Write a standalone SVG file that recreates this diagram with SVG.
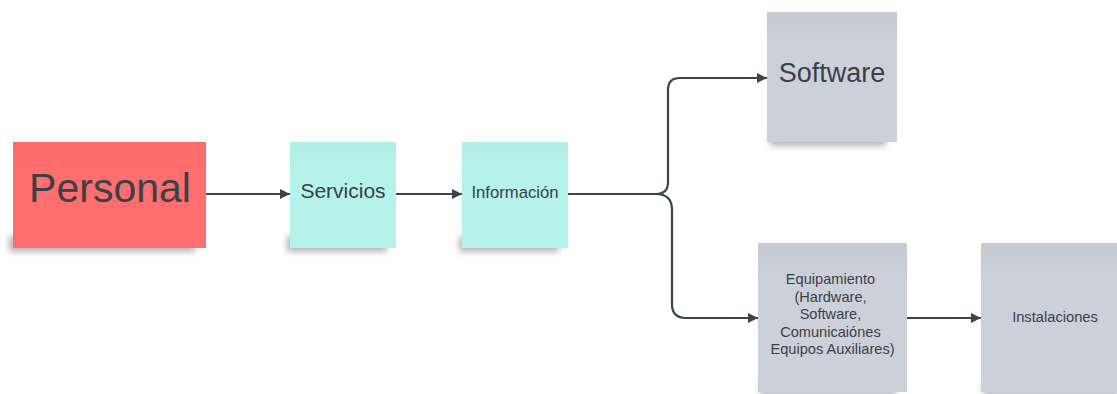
<svg xmlns="http://www.w3.org/2000/svg" width="1117" height="394" viewBox="0 0 1117 394">
  <style>
    .lbl { font-family: "Liberation Sans", Arial, sans-serif; fill: #3b3f46; text-anchor: middle; }
    .wire { fill: none; stroke: #3d434c; stroke-width: 2.2; }
    .shadow { fill: #000; opacity: 0.28; filter: url(#soft); }
  </style>
  <defs>
    <filter id="soft" x="-20%" y="-20%" width="140%" height="160%">
      <feGaussianBlur stdDeviation="3"/>
    </filter>
    <linearGradient id="grayFill" x1="0" y1="0" x2="0" y2="1">
      <stop offset="0" stop-color="#c6cbd3"/>
      <stop offset="0.25" stop-color="#ccd1d9"/>
      <stop offset="1" stop-color="#ccd1d9"/>
    </linearGradient>
    <linearGradient id="tealFill" x1="0" y1="0" x2="0" y2="1">
      <stop offset="0" stop-color="#b0eee6"/>
      <stop offset="0.25" stop-color="#b4f2ea"/>
      <stop offset="1" stop-color="#b4f2ea"/>
    </linearGradient>
    <linearGradient id="redFill" x1="0" y1="0" x2="0" y2="1">
      <stop offset="0" stop-color="#fb6b6b"/>
      <stop offset="0.25" stop-color="#fe6e6e"/>
      <stop offset="1" stop-color="#fe6e6e"/>
    </linearGradient>
    <marker id="arrow" viewBox="0 0 10 10" refX="10" refY="5" markerWidth="10" markerHeight="10" markerUnits="userSpaceOnUse" orient="auto">
      <path d="M0,0 L10,5 L0,10 Z" fill="#3d434c"/>
    </marker>
  </defs>

  <g id="connectors">
    <path class="wire" d="M206,194 H290" marker-end="url(#arrow)"/>
    <path class="wire" d="M396,194 H462" marker-end="url(#arrow)"/>
    <path class="wire" d="M567,194 H656 Q668,194 668,182 V90 Q668,78 680,78 H767" marker-end="url(#arrow)"/>
    <path class="wire" d="M656,194 Q672,194 672,210 V304 Q672,318 686,318 H758" marker-end="url(#arrow)"/>
    <path class="wire" d="M907,318 H981" marker-end="url(#arrow)"/>
  </g>

  <g id="personal">
    <rect class="shadow" x="9" y="236" width="186" height="16"/>
    <rect x="13" y="142" width="193" height="106" fill="url(#redFill)"/>
    <text class="lbl" x="110" y="202" font-size="41">Personal</text>
  </g>

  <g id="servicios">
    <rect class="shadow" x="287" y="236" width="100" height="16"/>
    <rect x="290" y="142" width="106" height="106" fill="url(#tealFill)"/>
    <text class="lbl" x="343" y="198" font-size="21">Servicios</text>
  </g>

  <g id="informacion">
    <rect class="shadow" x="459" y="236" width="100" height="16"/>
    <rect x="462" y="142" width="106" height="106" fill="url(#tealFill)"/>
    <text class="lbl" x="515" y="198" font-size="16.7">Información</text>
  </g>

  <g id="software">
    <rect class="shadow" x="770" y="130" width="116" height="16"/>
    <rect x="767" y="12" width="130" height="130" fill="url(#grayFill)"/>
    <text class="lbl" x="832" y="82" font-size="27">Software</text>
  </g>

  <g id="equipamiento">
    <rect class="shadow" x="760" y="381" width="136" height="14"/>
    <rect x="758" y="243" width="149" height="149" fill="url(#grayFill)"/>
    <text class="lbl" font-size="14.6">
      <tspan x="832.5" y="284">Equipamiento</tspan>
      <tspan x="832.5" y="301.6">(Hardware,</tspan>
      <tspan x="832.5" y="319.2">Software,</tspan>
      <tspan x="832.5" y="336.8">Comunicaiónes</tspan>
      <tspan x="832.5" y="354.4">Equipos Auxiliares)</tspan>
    </text>
  </g>

  <g id="instalaciones">
    <rect class="shadow" x="983" y="381" width="136" height="14"/>
    <rect x="981" y="243" width="149" height="149" fill="url(#grayFill)"/>
    <text class="lbl" x="1055" y="321.5" font-size="14.7">Instalaciones</text>
  </g>
</svg>
